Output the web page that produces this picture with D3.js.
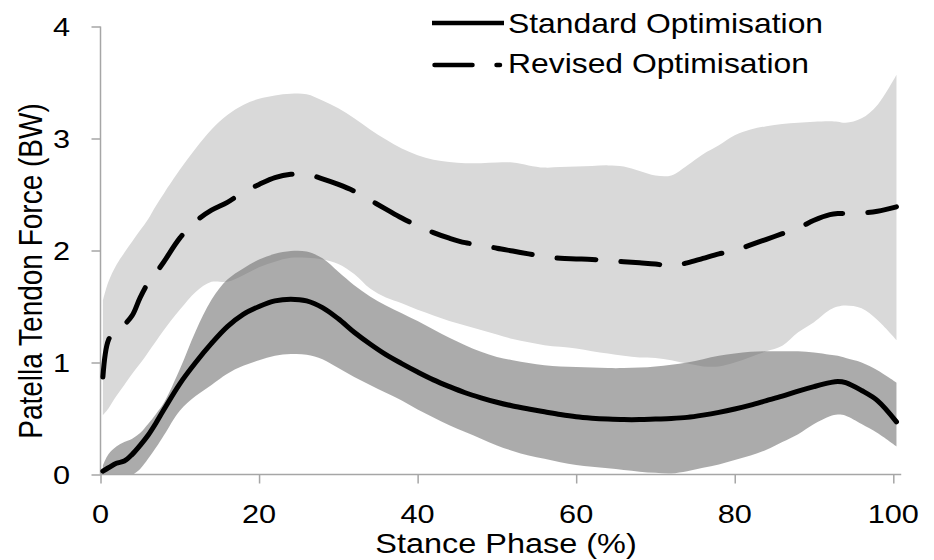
<!DOCTYPE html>
<html>
<head>
<meta charset="utf-8">
<script src="https://cdn.jsdelivr.net/npm/d3@7"></script>
<style>
  html, body { margin: 0; padding: 0; background: #ffffff; }
  svg { display: block; }
  text { font-family: "Liberation Sans", Arial, Helvetica, sans-serif; fill: #000; }
</style>
</head>
<body>
<svg id="chart" width="934" height="560"></svg>
<script>
// ---------------- data ----------------
const stancePct = [0.3, 1, 2, 3, 4, 5, 6, 7, 8, 10, 12, 14, 16, 18, 20, 22, 24, 26, 28, 30,
  32, 34, 36, 38, 40, 42, 44, 46, 48, 50, 52, 54, 56, 58, 60, 62, 64, 66, 68, 70,
  72, 74, 76, 78, 80, 82, 84, 86, 88, 90, 92, 93, 94, 96, 98, 100.4];

const standardMean = [0.03, 0.06, 0.10, 0.12, 0.18, 0.26, 0.35, 0.46, 0.58, 0.81, 1.00, 1.17, 1.32, 1.43, 1.50, 1.55, 1.565, 1.55, 1.49, 1.39,
  1.27, 1.165, 1.07, 0.99, 0.915, 0.845, 0.785, 0.73, 0.685, 0.645, 0.612, 0.585, 0.56, 0.535, 0.515, 0.503, 0.495, 0.49, 0.49, 0.495,
  0.50, 0.51, 0.53, 0.555, 0.585, 0.62, 0.66, 0.70, 0.745, 0.785, 0.82, 0.83, 0.82, 0.75, 0.66, 0.47];

const standardUpper = [0.08, 0.18, 0.25, 0.29, 0.32, 0.37, 0.45, 0.54, 0.64, 0.94, 1.28, 1.56, 1.74, 1.84, 1.92, 1.97, 1.995, 1.99, 1.93, 1.81,
  1.69, 1.59, 1.51, 1.44, 1.37, 1.295, 1.22, 1.155, 1.095, 1.05, 1.02, 0.995, 0.975, 0.965, 0.96, 0.955, 0.95, 0.95, 0.955, 0.965,
  0.98, 1.00, 1.03, 1.06, 1.08, 1.095, 1.10, 1.10, 1.10, 1.09, 1.07, 1.06, 1.04, 1.00, 0.93, 0.82];

const standardLower = [0, 0, 0, 0, 0, 0.05, 0.14, 0.24, 0.35, 0.57, 0.70, 0.80, 0.90, 0.97, 1.02, 1.06, 1.075, 1.07, 1.03, 0.95,
  0.87, 0.80, 0.73, 0.66, 0.58, 0.51, 0.44, 0.38, 0.32, 0.26, 0.21, 0.17, 0.14, 0.11, 0.085, 0.07, 0.055, 0.04, 0.025, 0.015,
  0.01, 0.03, 0.06, 0.09, 0.13, 0.17, 0.22, 0.29, 0.36, 0.45, 0.52, 0.535, 0.525, 0.45, 0.37, 0.25];

const revisedMean = [0.87, 1.20, 1.30, 1.34, 1.42, 1.58, 1.71, 1.80, 1.90, 2.11, 2.26, 2.36, 2.43, 2.52, 2.59, 2.65, 2.68, 2.68, 2.64, 2.59,
  2.53, 2.45, 2.37, 2.29, 2.22, 2.16, 2.11, 2.07, 2.05, 2.02, 1.995, 1.97, 1.945, 1.93, 1.925, 1.92, 1.91, 1.90, 1.89, 1.88,
  1.86, 1.89, 1.93, 1.97, 2.00, 2.05, 2.10, 2.15, 2.20, 2.27, 2.32, 2.33, 2.33, 2.335, 2.35, 2.39];

const revisedUpper = [1.55, 1.72, 1.87, 1.98, 2.08, 2.18, 2.28, 2.40, 2.51, 2.72, 2.91, 3.08, 3.21, 3.30, 3.355, 3.385, 3.40, 3.395, 3.34, 3.27,
  3.18, 3.08, 2.99, 2.91, 2.85, 2.81, 2.79, 2.78, 2.78, 2.785, 2.785, 2.76, 2.74, 2.745, 2.75, 2.755, 2.76, 2.75, 2.71, 2.67,
  2.67, 2.76, 2.86, 2.94, 3.03, 3.08, 3.11, 3.13, 3.14, 3.15, 3.155, 3.15, 3.14, 3.18, 3.30, 3.57];

const revisedLower = [0.53, 0.59, 0.70, 0.80, 0.90, 0.99, 1.09, 1.19, 1.29, 1.47, 1.63, 1.72, 1.72, 1.78, 1.85, 1.90, 1.935, 1.935, 1.92, 1.88,
  1.79, 1.66, 1.58, 1.53, 1.47, 1.42, 1.37, 1.33, 1.29, 1.25, 1.21, 1.18, 1.155, 1.14, 1.125, 1.10, 1.08, 1.06, 1.045, 1.04,
  1.02, 0.99, 0.965, 0.965, 1.00, 1.05, 1.10, 1.15, 1.27, 1.36, 1.47, 1.50, 1.51, 1.485, 1.38, 1.20];

const seriesNames = ["Standard Optimisation", "Revised Optimisation"];
const xTicks = [0, 20, 40, 60, 80, 100];
const yTicks = [0, 1, 2, 3, 4];
const xTitle = "Stance Phase (%)";
const yTitle = "Patella Tendon Force (BW)";

// ---------------- drawing ----------------
const svg = d3.select("#chart");
const SX = 1.18;          // horizontal stretch of the original text
const FS_TICK = 26, FS_LEG = 27, FS_TITLE = 28;

const x = d3.scaleLinear().domain([0, 100]).range([100.5, 893.3]);
const y = d3.scaleLinear().domain([0, 4]).range([474.5, 26.5]);

const idx = d3.range(stancePct.length);
const curve = d3.curveCatmullRom.alpha(0.5);

const clampY = v => Math.min(y(0), y(v));
const band = (lo, hi) => d3.area().curve(curve)
  .x(i => x(stancePct[i])).y0(i => y(lo[i])).y1(i => y(hi[i]));
const line = (vals) => d3.line().curve(curve)
  .x(i => x(stancePct[i])).y(i => y(vals[i]));

svg.append("clipPath").attr("id", "plotclip").append("rect")
  .attr("x", 0).attr("y", 0).attr("width", 934).attr("height", y(0));

const plot = svg.append("g").attr("clip-path", "url(#plotclip)");
// Revised band (light)
plot.append("path").attr("d", band(revisedLower, revisedUpper)(idx))
  .attr("fill", "#d9d9d9");
// Standard band (dark, translucent)
plot.append("path").attr("d", band(standardLower, standardUpper)(idx))
  .attr("fill", "rgb(110,110,110)").attr("fill-opacity", 0.58);

// Axes
const axisColor = "#a6a6a6";
const gx = svg.append("g").attr("transform", `translate(0,${y(0)})`)
  .call(d3.axisBottom(x).tickValues(xTicks).tickSize(9).tickSizeOuter(0).tickFormat(""));
gx.select(".domain").remove();
gx.selectAll(".tick line").attr("stroke", axisColor).attr("stroke-width", 1.5);
svg.append("line").attr("x1", x(0)).attr("x2", x(101)).attr("y1", y(0)).attr("y2", y(0))
  .attr("stroke", axisColor).attr("stroke-width", 1.5);

const gy = svg.append("g").attr("transform", `translate(${x(0)},0)`)
  .call(d3.axisLeft(y).tickValues(yTicks).tickSize(9).tickSizeOuter(0).tickFormat(""));
gy.select(".domain").remove();
gy.selectAll(".tick line").attr("stroke", axisColor).attr("stroke-width", 1.5);
svg.append("line").attr("x1", x(0)).attr("x2", x(0)).attr("y1", y(0)).attr("y2", y(4))
  .attr("stroke", axisColor).attr("stroke-width", 1.5);

// Tick labels
svg.selectAll(".xlab").data(xTicks).enter().append("text")
  .attr("class", "xlab")
  .attr("transform", d => `translate(${x(d)},523) scale(${SX},1)`)
  .attr("text-anchor", "middle").attr("font-size", FS_TICK)
  .text(d => d);
svg.selectAll(".ylab").data(yTicks).enter().append("text")
  .attr("class", "ylab")
  .attr("transform", d => `translate(70,${y(d) + 0.358 * FS_TICK}) scale(${SX},1)`)
  .attr("text-anchor", "end").attr("font-size", FS_TICK)
  .text(d => d);

// Axis titles
svg.append("text")
  .attr("transform", `translate(506,553) scale(${SX},1)`)
  .attr("text-anchor", "middle").attr("font-size", 27.5)
  .text(xTitle);
svg.append("text")
  .attr("transform", `translate(42,271) scale(${SX},1) rotate(-90)`)
  .attr("text-anchor", "middle").attr("font-size", FS_TITLE)
  .text(yTitle);

// Mean lines
svg.append("path").attr("d", line(revisedMean)(idx))
  .attr("fill", "none").attr("stroke", "#000").attr("stroke-width", 5)
  .attr("stroke-dasharray", "39,25").attr("stroke-linecap", "round");
svg.append("path").attr("d", line(standardMean)(idx))
  .attr("fill", "none").attr("stroke", "#000").attr("stroke-width", 5)
  .attr("stroke-linecap", "round");

// Legend
const leg = svg.append("g");
leg.append("line").attr("x1", 432).attr("x2", 504).attr("y1", 23).attr("y2", 23)
  .attr("stroke", "#000").attr("stroke-width", 4.5);
leg.append("line").attr("x1", 434.5).attr("x2", 500).attr("y1", 65).attr("y2", 65)
  .attr("stroke", "#000").attr("stroke-width", 4.5)
  .attr("stroke-dasharray", "38,24").attr("stroke-linecap", "round");
leg.selectAll(".legtext").data(seriesNames).enter().append("text")
  .attr("class", "legtext")
  .attr("transform", (d, i) => `translate(508,${33 + i * 40}) scale(${SX},1)`)
  .attr("font-size", FS_LEG)
  .text(d => d);
</script>
</body>
</html>
